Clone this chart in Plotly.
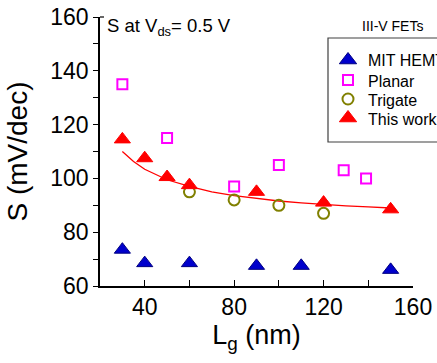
import plotly.graph_objects as go

# Subthreshold swing S (mV/dec) versus gate length Lg (nm)
mit_lg = [30, 40, 60, 90, 110, 150]
mit_s = [73.5, 68.5, 68.5, 67.5, 67.5, 66]

planar_lg = [30, 50, 80, 100, 129, 139]
planar_s = [135, 115, 97, 105, 103, 100]

trigate_lg = [60, 80, 100, 120]
trigate_s = [95, 92, 90, 87]

this_lg = [30, 40, 50, 60, 90, 120, 150]
this_s = [114.5, 107.5, 100.5, 97.5, 95, 91, 88.5]

# trend line through "This work"
fit_lg = [30, 35, 40, 45, 50, 60, 70, 80, 90, 100, 110, 120, 130, 140, 150]
fit_s = [110, 106.3, 103.4, 101.3, 99.5, 97, 95, 93.6, 92.5, 91.6, 90.9, 90.3, 89.8, 89.4, 89.0]

legend_names = ["MIT HEMT", "Planar", "Trigate", "This work"]

FONT = "Liberation Sans, Arial, sans-serif"

# figure geometry (pixels)
W, H = 437, 363
ML, MT, MB = 100, 17, 77
PLOT_RIGHT = 413
PW = W - ML
PH = H - MT - MB


def px_x(p):
    return (p - ML) / PW


def px_y(p):
    return (H - MB - p) / PH


styles = {
    "MIT HEMT": dict(symbol="triangle-up", size=14, color="#0000cc",
                     line=dict(color="#000080", width=1)),
    "Planar": dict(symbol="square-open", size=10, color="#ff00ff",
                   line=dict(color="#ff00ff", width=2)),
    "Trigate": dict(symbol="circle-open", size=11, color="#808000",
                    line=dict(color="#808000", width=2)),
    "This work": dict(symbol="triangle-up", size=14, color="#ff0000",
                      line=dict(color="#ff0000", width=1)),
}

fig = go.Figure()

fig.add_trace(go.Scatter(
    x=fit_lg, y=fit_s, mode="lines", line=dict(color="#ff0000", width=1.3),
    hoverinfo="skip"))

for name, xs, ys in [("MIT HEMT", mit_lg, mit_s), ("Planar", planar_lg, planar_s),
                     ("Trigate", trigate_lg, trigate_s), ("This work", this_lg, this_s)]:
    fig.add_trace(go.Scatter(x=xs, y=ys, mode="markers", name=name,
                             marker=styles[name]))

# legend keys drawn on an overlay axis measured in pixels
key_x = 348
key_rows = [60, 80, 99, 118]
key_sizes = {"MIT HEMT": 15, "Planar": 10, "Trigate": 11, "This work": 15}
for name, row in zip(legend_names, key_rows):
    st = dict(styles[name])
    st["size"] = key_sizes[name]
    fig.add_trace(go.Scatter(x=[key_x], y=[row], mode="markers", marker=st,
                             xaxis="x2", yaxis="y2", hoverinfo="skip"))

annotations = [
    dict(text="S at V<sub>ds</sub>= 0.5 V", xref="paper", yref="paper",
         x=px_x(105), y=px_y(27), xanchor="left", yanchor="middle",
         showarrow=False, font=dict(size=18.5, family=FONT, color="black")),
    dict(text="III-V FETs", xref="paper", yref="paper",
         x=px_x(392), y=px_y(26), xanchor="center", yanchor="middle",
         showarrow=False, font=dict(size=14, family=FONT, color="black")),
]
for name, row in zip(legend_names, key_rows):
    annotations.append(dict(
        text=name, xref="paper", yref="paper", x=px_x(366), y=px_y(row + 1),
        xanchor="left", yanchor="middle", showarrow=False,
        font=dict(size=16, family=FONT, color="black")))

fig.update_layout(
    width=W, height=H,
    margin=dict(l=ML, r=0, t=MT, b=MB, autoexpand=False),
    paper_bgcolor="white", plot_bgcolor="white",
    font=dict(family=FONT, color="black"),
    showlegend=False,
    xaxis=dict(
        domain=[0, (PLOT_RIGHT - ML) / PW],
        range=[20, 160], showgrid=False, zeroline=False,
        showline=True, linecolor="black", linewidth=1.5,
        tickvals=[40, 80, 120, 160], ticks="inside", ticklen=6,
        tickcolor="black", tickwidth=1.2,
        minor=dict(tickvals=[60, 100, 140], ticks="inside", ticklen=6,
                   tickcolor="black", tickwidth=1.2),
        tickfont=dict(size=23, family=FONT),
        title=dict(text="L<sub>g</sub> (nm)", font=dict(size=27, family=FONT),
                   standoff=4),
    ),
    yaxis=dict(
        range=[60, 160], showgrid=False, zeroline=False,
        showline=True, linecolor="black", linewidth=1.5,
        dtick=20, ticks="outside", ticklen=5,
        tickcolor="black", tickwidth=1.2,
        minor=dict(dtick=10, ticks="outside", ticklen=5,
                   tickcolor="black", tickwidth=1.2),
        tickfont=dict(size=23, family=FONT),
        title=dict(text="S (mV/dec)", font=dict(size=28, family=FONT),
                   standoff=14),
    ),
    # overlay axes share the main plot area, so they are scaled in pixels
    xaxis2=dict(range=[ML, PLOT_RIGHT], visible=False, fixedrange=True,
                anchor="y2", overlaying="x"),
    yaxis2=dict(range=[H - MB, MT], visible=False,
                fixedrange=True, anchor="x2", overlaying="y"),
    shapes=[
        # legend frame
        dict(type="rect", xref="paper", yref="paper",
             x0=px_x(328), x1=px_x(460), y0=px_y(142), y1=px_y(38),
             line=dict(color="#404040", width=1.2), fillcolor="rgba(0,0,0,0)"),
        # small inward tick at the top of the y axis
        dict(type="line", xref="paper", yref="paper",
             x0=0, x1=px_x(104), y0=1, y1=1,
             line=dict(color="black", width=1.2)),
    ],
    annotations=annotations,
)

fig.write_html("out.html")
